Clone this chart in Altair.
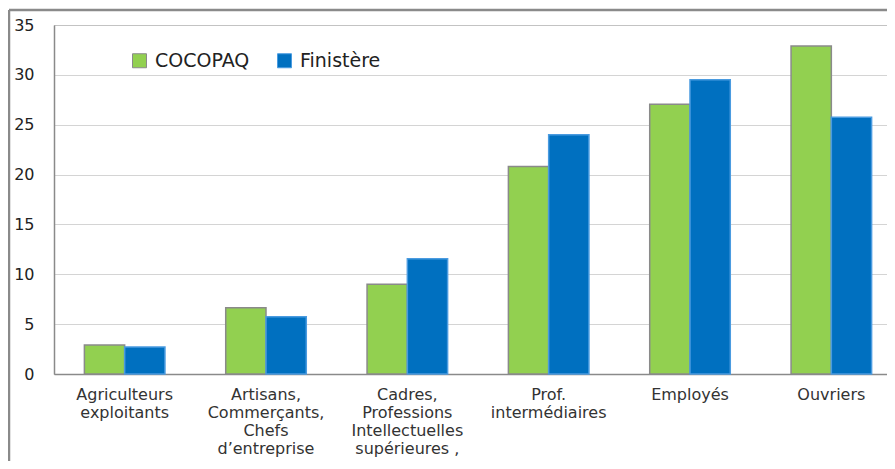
import altair as alt
import pandas as pd

categories = [
    "Agriculteurs\nexploitants",
    "Artisans,\nCommerçants,\nChefs\nd’entreprise",
    "Cadres,\nProfessions\nIntellectuelles\nsupérieures ,",
    "Prof.\nintermédiaires",
    "Employés",
    "Ouvriers",
]
series = ["COCOPAQ", "Finistère"]
cocopaq = [2.9, 6.65, 9.0, 20.8, 27.05, 32.9]
finistere = [2.7, 5.75, 11.57, 24.0, 29.5, 25.75]

rows = []
for c, a, b in zip(categories, cocopaq, finistere):
    rows.append({"cat": c, "serie": series[0], "val": a})
    rows.append({"cat": c, "serie": series[1], "val": b})
df = pd.DataFrame(rows)

FONT = "DejaVu Sans"

legend_cfg = dict(title=None, orient="none", legendX=76, legendY=26,
                  direction="horizontal", symbolType="square",
                  symbolSize=196, labelFont=FONT, labelFontSize=19,
                  labelColor="#222222", labelOffset=6,
                  columnPadding=25, padding=0, symbolStrokeWidth=1)

bars = alt.Chart(df).mark_bar(strokeWidth=1.5).encode(
    x=alt.X("cat:N", sort=categories, title=None,
            scale=alt.Scale(paddingInner=0.43, paddingOuter=0.215, range=[0, 848]),
            axis=alt.Axis(labelExpr="split(datum.label, '\\n')", labelAngle=0,
                          labelFont=FONT, labelFontSize=16, labelLineHeight=18,
                          labelColor="#333333", labelPadding=12, ticks=False,
                          domainColor="#8a8a8a", domainWidth=1.5, labelLimit=200,
                          labelBaseline="top")),
    xOffset=alt.XOffset("serie:N", sort=series, scale=alt.Scale(paddingInner=0, paddingOuter=0)),
    y=alt.Y("val:Q", title=None,
            scale=alt.Scale(domain=[0, 35], nice=False),
            axis=alt.Axis(values=[0, 5, 10, 15, 20, 25, 30, 35], ticks=False,
                          labelFont=FONT, labelFontSize=16, labelColor="#222222",
                          labelPadding=20, domainColor="#8a8a8a", domainWidth=1.5,
                          grid=True, gridColor="#a8a8a8", gridDash=[1, 1], gridWidth=1)),
    color=alt.Color("serie:N", sort=series,
                    scale=alt.Scale(domain=series, range=["#92D050", "#0070C0"]),
                    legend=alt.Legend(**legend_cfg)),
    stroke=alt.Stroke("serie:N", sort=series,
                      scale=alt.Scale(domain=series, range=["#8a8a8a", "#4a9be0"]),
                      legend=alt.Legend(**legend_cfg)),
)

frame_df = pd.DataFrame({"k": [0]})
frame_left = alt.Chart(frame_df).mark_rule(color="#8a8a8a", strokeWidth=2.5).encode(
    x=alt.value(-45), y=alt.value(-15), y2=alt.value(470))
frame_top = alt.Chart(frame_df).mark_rule(color="#8a8a8a", strokeWidth=2.5).encode(
    y=alt.value(-15), x=alt.value(-45), x2=alt.value(900))

chart = alt.layer(bars, frame_left, frame_top).properties(
    width=833, height=349,
    autosize=alt.AutoSizeParams(type="none"),
    padding={"left": 46, "top": 17, "right": 0, "bottom": 87},
).configure_view(stroke=None).configure(background="white")

chart.save("out.html", embed_options={"renderer": "svg", "actions": False})
